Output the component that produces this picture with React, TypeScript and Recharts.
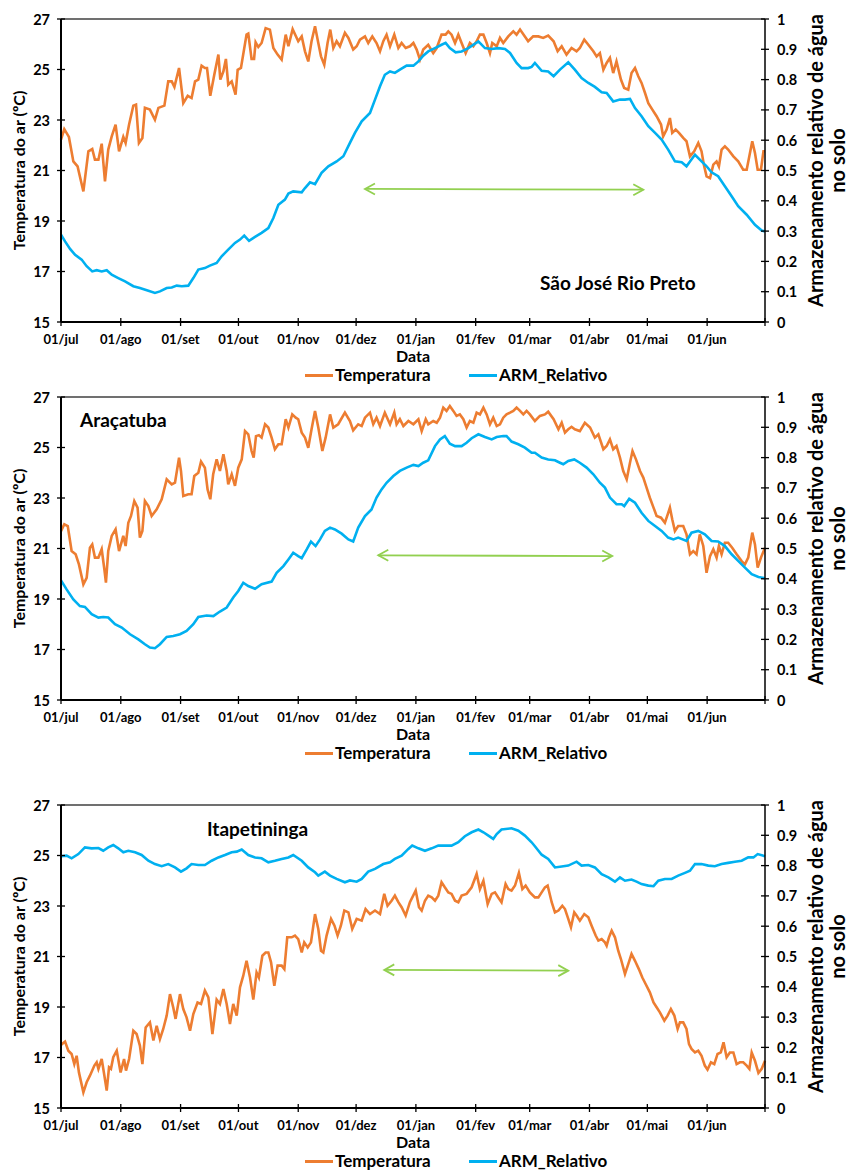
import React from 'react';
import { LineChart, Line, XAxis, YAxis, ReferenceLine } from 'recharts';

type Pt = [number, number];

// ---------- axis ticks / labels ----------
const monthTicks = [0, 31, 62, 92, 123, 153, 184, 215, 243, 274, 304, 335, 365];
const monthLabels = ['01/jul', '01/ago', '01/set', '01/out', '01/nov', '01/dez', '01/jan', '01/fev', '01/mar', '01/abr', '01/mai', '01/jun', ''];
const tempTicks = [15, 17, 19, 21, 23, 25, 27];
const armTicks = [0, 0.1, 0.2, 0.3, 0.4, 0.5, 0.6, 0.7, 0.8, 0.9, 1];
const seriesNames = ['Temperatura', 'ARM_Relativo'];
const stationNames = ['São José Rio Preto', 'Araçatuba', 'Itapetininga'];

// ---------- São José Rio Preto: [day since 01/jul, value] ----------
const sjrpTemp: Pt[] = [
  [0, 22.22], [1.7, 22.64], [4.1, 22.33], [6.4, 21.36], [8.6, 21.16], [11.6, 20.17], [14.2, 21.76], [16.2, 21.85], [17.6, 21.43], [19.4, 21.43],
  [21.1, 22.06], [22.8, 20.57], [24.5, 21.83], [26.3, 22.35], [28.3, 22.82], [30.1, 21.76], [32.3, 22.33], [33.5, 22.09], [35.3, 22.82], [37.5, 23.57],
  [38.9, 23.61], [40.4, 22.09], [42.2, 22.29], [43.5, 23.48], [46.1, 23.41], [48.7, 23.01], [50.5, 23.48], [53.6, 23.57], [55.6, 24.53], [57.4, 24.53],
  [58.8, 24.31], [61.2, 25.06], [63.4, 23.67], [65.7, 23.96], [67.7, 23.87], [69.5, 24.53], [71.2, 24.6], [72.9, 25.15], [74.6, 25.06], [75.7, 25.06],
  [77.4, 23.96], [79.5, 24.8], [81.6, 25.59], [82.6, 24.6], [84.2, 24.93], [85.5, 25.42], [86.7, 24.4], [88.5, 24.53], [90.5, 24.0], [91.6, 24.99],
  [93.3, 25.06], [96.2, 26.38], [97.1, 26.42], [98.8, 25.42], [100.1, 25.42], [100.9, 26.08], [102.3, 25.89], [104.0, 26.05], [106.1, 26.64], [108.3, 26.58],
  [110.1, 25.85], [112.3, 25.59], [114.4, 25.39], [116.5, 26.38], [117.9, 25.92], [120.1, 26.6], [123.0, 26.12], [124.8, 26.31], [126.5, 25.72], [128.2, 25.32],
  [129.9, 26.12], [131.7, 26.71], [133.4, 26.05], [134.8, 25.52], [136.5, 25.19], [138.2, 26.05], [139.6, 26.58], [141.2, 25.85], [142.9, 26.12], [144.6, 25.92],
  [147.2, 26.45], [149.0, 26.25], [151.5, 25.79], [153.3, 25.92], [155.0, 26.18], [157.6, 26.31], [159.3, 26.05], [161.4, 26.31], [163.6, 26.05], [165.4, 25.72],
  [167.1, 26.12], [168.8, 26.38], [170.6, 25.92], [172.8, 26.38], [174.9, 25.85], [176.6, 26.05], [178.7, 25.85], [180.9, 25.92], [182.7, 26.05], [184.4, 25.79],
  [186.1, 25.39], [187.8, 25.79], [190.4, 25.98], [193.0, 25.65], [194.8, 25.85], [197.3, 26.38], [199.4, 26.38], [200.8, 26.51], [202.5, 26.38], [204.3, 26.05],
  [206.0, 26.38], [207.7, 26.05], [209.8, 25.65], [212.0, 26.05], [213.8, 25.92], [215.5, 26.12], [217.2, 26.38], [219.0, 26.38], [220.7, 26.05], [222.4, 25.65],
  [223.6, 26.05], [225.9, 25.92], [227.6, 26.25], [229.3, 26.05], [231.9, 26.31], [234.5, 26.51], [236.2, 26.38], [238.0, 26.58], [240.5, 26.31], [242.2, 26.12],
  [244.8, 26.31], [247.5, 26.31], [250.0, 26.25], [252.6, 26.34], [255.4, 26.12], [257.5, 25.72], [259.6, 25.92], [262.1, 25.59], [264.7, 25.85], [267.3, 25.72],
  [269.0, 25.85], [271.3, 26.18], [273.4, 25.98], [276.0, 25.72], [277.7, 25.52], [279.4, 25.65], [281.2, 24.99], [282.9, 25.26], [284.6, 25.46], [286.3, 24.86],
  [288.0, 25.32], [290.3, 24.6], [292.0, 24.27], [294.1, 24.2], [295.8, 24.86], [297.6, 25.06], [299.3, 24.73], [301.0, 24.47], [302.8, 24.07], [304.5, 23.67],
  [306.6, 23.41], [308.8, 23.15], [311.1, 22.82], [312.2, 22.35], [314.0, 22.62], [315.7, 23.08], [316.9, 22.49], [318.7, 22.62], [320.4, 22.49], [322.6, 22.29],
  [324.3, 22.16], [326.1, 21.56], [328.3, 21.76], [330.4, 22.09], [332.1, 21.76], [333.3, 21.23], [334.7, 20.77], [336.5, 20.7], [338.2, 21.23], [339.9, 21.36],
  [341.1, 21.16], [342.5, 21.83], [344.2, 21.96], [345.9, 21.83], [348.6, 21.56], [351.1, 21.36], [353.7, 21.03], [355.5, 21.03], [357.2, 21.69], [358.4, 22.16],
  [359.8, 21.69], [361.2, 21.03], [362.9, 21.03], [364.2, 21.76], [365, 21.76],
];
const sjrpArm: Pt[] = [
  [0, 0.288], [2.1, 0.266], [4.7, 0.241], [7.3, 0.222], [10.7, 0.206], [13.3, 0.184], [16.2, 0.167], [18.5, 0.171], [21.1, 0.167], [23.7, 0.171],
  [26.3, 0.156], [29.7, 0.145], [33.2, 0.134], [37.5, 0.118], [40.9, 0.112], [45.3, 0.103], [48.7, 0.096], [51.3, 0.101], [54.8, 0.112], [57.4, 0.114],
  [60.0, 0.12], [62.6, 0.118], [66.0, 0.12], [68.6, 0.145], [71.2, 0.173], [74.6, 0.178], [77.2, 0.186], [80.7, 0.195], [83.3, 0.217], [86.7, 0.239],
  [90.2, 0.261], [92.8, 0.272], [95.0, 0.285], [97.5, 0.268], [100.6, 0.281], [104.0, 0.294], [107.5, 0.31], [110.1, 0.343], [112.7, 0.387], [116.1, 0.404],
  [117.9, 0.424], [120.4, 0.431], [124.8, 0.428], [126.5, 0.442], [129.1, 0.461], [131.7, 0.455], [135.1, 0.492], [138.6, 0.514], [142.9, 0.53], [146.4, 0.547],
  [149.8, 0.591], [152.4, 0.624], [155.9, 0.662], [160.2, 0.69], [162.8, 0.734], [165.4, 0.778], [167.9, 0.816], [170.6, 0.827], [173.1, 0.822], [175.7, 0.833],
  [179.2, 0.846], [182.7, 0.846], [185.3, 0.86], [187.8, 0.879], [190.4, 0.893], [193.9, 0.904], [197.3, 0.915], [199.4, 0.921], [201.6, 0.904], [204.6, 0.89],
  [207.7, 0.893], [211.2, 0.904], [216.4, 0.926], [219.8, 0.904], [223.3, 0.901], [226.7, 0.904], [230.2, 0.901], [232.8, 0.888], [236.2, 0.855], [238.8, 0.838],
  [242.2, 0.838], [244.0, 0.842], [245.7, 0.855], [249.2, 0.829], [252.6, 0.827], [255.4, 0.811], [258.7, 0.833], [263.0, 0.857], [266.4, 0.833], [269.9, 0.805],
  [273.4, 0.789], [276.8, 0.776], [280.3, 0.758], [282.9, 0.756], [286.3, 0.728], [289.8, 0.734], [292.4, 0.734], [295.0, 0.736], [297.6, 0.706], [301.0, 0.679],
  [304.5, 0.646], [308.0, 0.624], [311.4, 0.602], [314.8, 0.569], [318.3, 0.53], [321.8, 0.527], [324.3, 0.514], [326.1, 0.53], [328.7, 0.552], [331.2, 0.536],
  [334.7, 0.514], [337.3, 0.494], [340.7, 0.481], [344.2, 0.448], [347.7, 0.415], [351.1, 0.382], [355.5, 0.354], [359.8, 0.321], [363.3, 0.302], [365, 0.299],
];

// ---------- Araçatuba ----------
const araTemp: Pt[] = [
  [0, 21.69], [1.7, 21.96], [3.5, 21.89], [5.5, 20.9], [7.6, 20.77], [9.3, 20.37], [11.6, 19.58], [13.3, 19.84], [15.0, 21.03], [16.2, 21.16],
  [17.6, 20.64], [19.4, 20.64], [21.1, 20.97], [22.5, 20.17], [23.3, 19.65], [24.5, 20.9], [26.3, 21.5], [28.3, 21.76], [30.1, 20.9], [32.3, 21.5],
  [33.5, 21.1], [34.9, 22.02], [36.3, 22.29], [38.0, 22.88], [39.7, 22.62], [40.9, 21.43], [42.2, 21.69], [43.5, 22.88], [45.3, 22.68], [47.0, 22.29],
  [49.6, 22.55], [52.2, 22.95], [54.8, 23.74], [57.4, 23.54], [59.1, 23.61], [61.2, 24.6], [62.2, 24.07], [63.4, 23.08], [66.0, 23.15], [67.7, 23.15],
  [69.1, 23.87], [71.2, 24.0], [72.6, 24.44], [74.6, 24.2], [76.0, 23.34], [77.4, 22.95], [78.9, 23.94], [80.7, 24.53], [82.4, 24.07], [84.2, 24.73],
  [85.9, 24.07], [86.7, 23.54], [88.5, 23.94], [90.2, 23.48], [91.9, 24.2], [93.7, 24.53], [95.4, 25.65], [97.1, 25.52], [98.8, 24.86], [99.9, 24.6],
  [101.1, 25.45], [102.6, 25.49], [104.0, 25.39], [105.8, 25.92], [107.5, 25.79], [109.2, 25.39], [110.9, 24.93], [112.7, 25.13], [114.4, 25.13], [116.5, 26.12],
  [117.9, 25.79], [119.9, 26.31], [121.7, 26.18], [123.0, 26.12], [124.8, 25.59], [126.5, 25.39], [128.2, 24.99], [129.9, 25.72], [131.7, 26.45], [133.4, 25.79],
  [135.5, 24.86], [137.2, 25.39], [139.5, 26.31], [141.2, 25.79], [143.7, 25.92], [147.2, 26.38], [149.8, 26.05], [151.5, 25.68], [154.1, 25.92], [155.9, 25.85],
  [157.6, 26.18], [160.2, 26.38], [161.9, 25.92], [163.6, 26.18], [165.4, 25.85], [167.9, 26.38], [170.6, 25.92], [172.8, 26.38], [174.0, 25.92], [175.7, 26.12],
  [177.5, 25.85], [180.1, 26.05], [182.7, 25.92], [185.3, 26.12], [187.0, 25.65], [189.1, 26.12], [190.4, 25.92], [193.0, 26.05], [194.8, 25.98], [196.5, 26.18],
  [198.2, 26.58], [199.9, 26.45], [201.6, 26.64], [203.4, 26.45], [205.1, 26.25], [206.8, 26.31], [208.6, 26.12], [210.3, 25.79], [212.0, 26.05], [213.8, 25.98],
  [215.5, 26.38], [217.2, 26.31], [219.0, 26.58], [220.7, 26.31], [222.4, 25.92], [224.1, 26.18], [225.9, 25.85], [227.6, 25.92], [229.3, 26.18], [231.0, 26.31],
  [232.8, 26.38], [234.5, 26.45], [236.2, 26.58], [238.0, 26.45], [239.7, 26.31], [241.4, 26.45], [243.1, 26.31], [245.7, 26.05], [248.3, 26.25], [250.9, 26.31],
  [252.6, 26.42], [255.4, 26.12], [257.9, 25.72], [259.6, 25.98], [261.3, 25.59], [263.0, 25.72], [264.7, 25.82], [266.4, 25.72], [269.0, 25.65], [271.6, 25.98],
  [274.3, 25.79], [276.8, 25.39], [278.6, 25.52], [281.2, 24.93], [282.9, 25.06], [284.6, 25.32], [286.3, 24.93], [288.0, 25.06], [289.8, 24.6], [291.5, 24.07],
  [293.3, 23.74], [295.0, 24.4], [296.3, 24.86], [298.1, 24.53], [300.2, 24.07], [301.9, 23.81], [303.6, 23.41], [305.3, 23.01], [307.2, 22.62], [308.8, 22.29],
  [311.1, 22.22], [313.1, 22.02], [314.3, 22.29], [315.7, 22.62], [316.9, 22.16], [318.3, 21.69], [320.0, 21.89], [322.6, 21.89], [324.3, 21.56], [326.1, 20.77],
  [327.8, 20.9], [329.5, 20.77], [331.2, 21.56], [333.0, 21.1], [334.7, 20.04], [336.5, 20.7], [338.2, 20.97], [339.9, 20.64], [341.1, 21.1], [342.5, 20.77],
  [344.2, 21.23], [345.9, 21.23], [348.0, 21.03], [350.3, 20.77], [352.9, 20.5], [354.6, 20.37], [356.3, 20.64], [358.4, 21.63], [359.8, 21.16], [361.2, 20.24],
  [362.9, 20.64], [365, 21.03],
];
const araArm: Pt[] = [
  [0, 0.395], [2.9, 0.365], [6.4, 0.332], [9.8, 0.31], [12.4, 0.307], [15.9, 0.283], [19.4, 0.272], [21.9, 0.274], [24.5, 0.272], [28.0, 0.25],
  [31.5, 0.239], [35.8, 0.217], [40.1, 0.2], [43.5, 0.184], [46.1, 0.173], [48.7, 0.171], [51.3, 0.184], [54.8, 0.208], [58.2, 0.211], [61.7, 0.217],
  [65.1, 0.228], [68.6, 0.25], [71.2, 0.274], [75.5, 0.279], [79.0, 0.277], [82.4, 0.292], [85.9, 0.305], [89.3, 0.338], [91.9, 0.36], [94.5, 0.387],
  [97.1, 0.376], [100.6, 0.367], [104.0, 0.382], [109.2, 0.391], [111.8, 0.42], [115.3, 0.442], [117.9, 0.464], [120.4, 0.486], [123.0, 0.475], [124.8, 0.468],
  [127.4, 0.497], [129.6, 0.523], [132.0, 0.508], [134.3, 0.53], [136.8, 0.558], [139.5, 0.569], [142.0, 0.563], [145.5, 0.549], [149.0, 0.53], [151.5, 0.523],
  [154.1, 0.569], [157.6, 0.607], [161.0, 0.629], [163.6, 0.668], [166.2, 0.695], [168.8, 0.717], [172.3, 0.739], [175.7, 0.756], [179.2, 0.767], [182.7, 0.776],
  [185.3, 0.772], [187.8, 0.783], [190.4, 0.791], [193.9, 0.838], [196.5, 0.86], [199.0, 0.871], [201.6, 0.846], [204.3, 0.838], [207.7, 0.838], [210.3, 0.849],
  [212.9, 0.864], [216.4, 0.877], [219.8, 0.868], [223.3, 0.86], [225.9, 0.868], [229.3, 0.871], [231.0, 0.871], [233.6, 0.853], [237.1, 0.844], [240.5, 0.833],
  [244.0, 0.816], [245.7, 0.816], [249.2, 0.8], [252.6, 0.794], [256.1, 0.791], [258.7, 0.783], [260.4, 0.778], [263.0, 0.789], [266.1, 0.794], [269.0, 0.783],
  [272.5, 0.767], [276.0, 0.745], [279.4, 0.717], [282.0, 0.701], [284.6, 0.668], [288.0, 0.646], [290.7, 0.646], [292.0, 0.64], [294.6, 0.664], [297.6, 0.651],
  [301.0, 0.618], [304.5, 0.591], [308.0, 0.574], [311.4, 0.558], [314.8, 0.536], [317.5, 0.53], [320.0, 0.536], [324.3, 0.525], [326.9, 0.552], [330.4, 0.558],
  [333.8, 0.547], [337.3, 0.525], [340.7, 0.523], [344.2, 0.508], [347.7, 0.481], [351.1, 0.459], [354.6, 0.437], [358.1, 0.415], [361.6, 0.406], [365, 0.402],
];

// ---------- Itapetininga ----------
const itaTemp: Pt[] = [
  [0, 17.5], [2.1, 17.63], [3.8, 17.27], [5.5, 17.14], [6.9, 16.74], [8.1, 17.07], [9.3, 16.41], [11.6, 15.62], [13.3, 16.02], [15.0, 16.28],
  [17.3, 16.68], [18.5, 16.81], [19.4, 16.55], [21.1, 16.94], [22.5, 16.28], [23.7, 15.69], [24.9, 16.61], [25.9, 16.55], [27.1, 17.01], [28.9, 17.27],
  [30.9, 16.41], [32.7, 16.94], [33.7, 16.48], [35.3, 16.94], [37.5, 18.06], [39.2, 17.93], [40.9, 17.47], [42.2, 16.74], [43.9, 18.19], [46.1, 18.39],
  [47.9, 17.67], [49.6, 18.26], [51.3, 17.73], [53.0, 18.13], [54.8, 18.66], [56.5, 19.51], [58.2, 18.98], [59.4, 18.53], [61.7, 19.51], [63.4, 18.92],
  [65.1, 18.59], [66.9, 18.06], [68.6, 18.72], [70.8, 19.18], [72.6, 19.12], [74.6, 19.65], [76.4, 19.38], [78.5, 17.93], [80.7, 19.29], [82.4, 19.12],
  [84.2, 19.71], [85.9, 19.12], [87.6, 18.33], [89.3, 19.12], [91.1, 18.66], [92.8, 19.78], [94.5, 20.24], [96.2, 20.83], [98.0, 20.17], [99.7, 19.29],
  [101.4, 20.37], [102.6, 20.17], [104.4, 21.03], [106.1, 21.16], [107.5, 21.16], [108.9, 20.77], [110.6, 19.84], [112.3, 20.64], [114.4, 20.64], [115.8, 20.5],
  [117.3, 21.76], [119.6, 21.76], [121.3, 21.83], [123.0, 21.69], [124.8, 21.16], [126.1, 21.56], [127.9, 21.36], [129.6, 21.56], [131.7, 22.68], [133.4, 22.09],
  [134.8, 21.23], [136.0, 21.16], [137.7, 21.83], [140.0, 22.49], [141.8, 22.22], [143.4, 21.83], [145.1, 22.22], [146.9, 22.82], [149.0, 22.75], [151.0, 22.09],
  [153.3, 22.49], [155.9, 22.42], [157.9, 22.88], [160.2, 22.68], [162.8, 22.82], [165.4, 22.68], [167.6, 23.48], [169.3, 23.01], [171.4, 23.21], [173.1, 23.41],
  [174.9, 23.15], [176.6, 22.95], [178.7, 22.62], [180.9, 23.15], [183.9, 23.61], [185.6, 22.95], [187.0, 22.82], [188.7, 23.21], [190.4, 23.41], [192.2, 23.34],
  [193.9, 23.21], [195.6, 23.41], [197.3, 23.94], [199.0, 23.74], [200.8, 23.54], [202.5, 23.48], [204.3, 23.21], [206.0, 23.15], [207.7, 23.41], [210.3, 23.48],
  [212.9, 23.74], [215.5, 24.27], [217.2, 23.67], [219.0, 24.0], [221.2, 23.08], [223.3, 23.48], [225.0, 23.54], [226.7, 23.34], [228.4, 23.15], [230.5, 23.87],
  [231.9, 23.67], [233.6, 23.61], [235.4, 23.81], [237.4, 24.31], [239.2, 23.67], [240.9, 23.81], [243.1, 23.54], [245.7, 23.34], [247.5, 23.34], [249.2, 23.54],
  [250.9, 23.74], [252.3, 23.81], [254.4, 23.15], [256.1, 22.75], [257.9, 22.82], [259.9, 23.01], [261.3, 22.88], [263.0, 22.49], [264.4, 22.16], [266.1, 22.75],
  [267.3, 22.62], [269.0, 22.42], [271.3, 22.68], [273.4, 22.55], [275.1, 22.22], [277.2, 21.83], [278.6, 21.63], [280.3, 21.69], [282.0, 21.56], [282.9, 21.43],
  [284.1, 21.76], [285.5, 22.02], [287.2, 21.76], [288.9, 21.23], [290.3, 20.9], [292.4, 20.31], [294.1, 20.7], [295.8, 21.1], [297.6, 20.83], [299.6, 20.5],
  [301.4, 20.17], [303.1, 19.91], [305.3, 19.58], [307.2, 19.18], [308.8, 18.99], [310.5, 18.79], [312.8, 18.46], [314.5, 18.66], [316.2, 18.92], [318.0, 18.66],
  [319.7, 18.13], [320.9, 18.39], [322.6, 18.39], [324.3, 18.13], [325.6, 17.53], [326.9, 17.34], [328.7, 17.2], [330.4, 17.27], [332.1, 17.07], [333.8, 16.68],
  [335.2, 16.52], [337.0, 16.81], [338.7, 16.74], [340.4, 17.14], [342.1, 17.2], [343.5, 17.6], [345.1, 17.01], [346.8, 17.2], [348.6, 17.2], [350.3, 16.74],
  [352.0, 16.81], [353.7, 16.81], [355.5, 16.68], [356.9, 16.55], [358.1, 17.2], [359.8, 16.87], [361.6, 16.39], [363.3, 16.55], [365, 16.87],
];
const itaArm: Pt[] = [
  [0, 0.831], [2.9, 0.833], [5.5, 0.824], [9.0, 0.838], [12.4, 0.86], [15.9, 0.857], [19.4, 0.858], [21.9, 0.849], [24.5, 0.86], [27.1, 0.868],
  [29.7, 0.857], [32.3, 0.844], [34.9, 0.849], [38.4, 0.844], [41.8, 0.835], [45.3, 0.816], [48.7, 0.805], [52.2, 0.798], [55.6, 0.805], [59.1, 0.794],
  [62.2, 0.78], [65.1, 0.791], [67.7, 0.805], [71.2, 0.802], [74.6, 0.802], [78.1, 0.816], [81.6, 0.827], [85.0, 0.835], [88.5, 0.844], [91.1, 0.846],
  [93.7, 0.853], [97.1, 0.835], [100.6, 0.827], [104.0, 0.824], [107.5, 0.811], [110.9, 0.816], [114.4, 0.822], [117.9, 0.827], [120.4, 0.835], [124.8, 0.816],
  [128.2, 0.794], [131.7, 0.778], [133.4, 0.767], [136.8, 0.78], [139.5, 0.767], [142.9, 0.756], [147.2, 0.745], [149.8, 0.751], [153.3, 0.747], [155.9, 0.756],
  [159.3, 0.78], [162.8, 0.789], [167.1, 0.805], [170.6, 0.811], [173.1, 0.822], [176.6, 0.833], [180.1, 0.855], [182.1, 0.866], [185.3, 0.857], [188.7, 0.849],
  [192.2, 0.857], [195.6, 0.866], [199.0, 0.866], [202.5, 0.866], [206.0, 0.877], [209.4, 0.897], [212.9, 0.91], [216.4, 0.919], [219.0, 0.91], [221.6, 0.899],
  [224.1, 0.888], [225.9, 0.904], [228.4, 0.919], [233.6, 0.923], [237.1, 0.915], [240.5, 0.899], [244.0, 0.877], [245.7, 0.864], [249.2, 0.836], [252.6, 0.822],
  [256.1, 0.794], [259.6, 0.797], [263.0, 0.8], [267.3, 0.813], [269.9, 0.8], [273.4, 0.802], [276.8, 0.794], [280.3, 0.772], [283.8, 0.761], [287.2, 0.747],
  [289.8, 0.761], [292.4, 0.75], [295.8, 0.754], [298.4, 0.747], [301.0, 0.739], [304.5, 0.734], [307.2, 0.732], [309.7, 0.75], [313.1, 0.756], [316.6, 0.756],
  [320.0, 0.767], [323.5, 0.776], [326.1, 0.783], [328.7, 0.805], [332.1, 0.805], [335.6, 0.8], [339.0, 0.798], [342.5, 0.805], [345.9, 0.809], [349.4, 0.813],
  [352.9, 0.816], [356.3, 0.827], [359.0, 0.827], [361.2, 0.838], [365, 0.831],
];

// ---------- green double arrows: [day, temperature] at both ends ----------
const sjrpArrow: Pt[] = [[157.6, 20.27], [301.9, 20.24]];
const araArrow: Pt[] = [[164.5, 20.73], [285.8, 20.7]];
const itaArrow: Pt[] = [[167.6, 20.47], [263.0, 20.44]];

// ---------- styling ----------
const FONT = 'Lato, "Open Sans", "DejaVu Sans", sans-serif';
const ORANGE = '#ED7D31';
const BLUE = '#00B0F0';
const GREEN = '#92D050';

function mergeSeries(temp: Pt[], arm: Pt[]) {
  const map = new Map<number, { day: number; temp?: number; arm?: number }>();
  temp.forEach(([d, v]) => {
    const r = map.get(d) || { day: d };
    r.temp = v;
    map.set(d, r);
  });
  arm.forEach(([d, v]) => {
    const r = map.get(d) || { day: d };
    r.arm = v;
    map.set(d, r);
  });
  return Array.from(map.values()).sort((a, b) => a.day - b.day);
}

const XTick = (props: any) => {
  const { x, y, payload } = props;
  const idx = monthTicks.indexOf(payload.value);
  return (
    <g>
      <line x1={x} x2={x} y1={y - 4} y2={y + 4} stroke="#000" strokeWidth={1.3} />
      <text x={x} y={y + 17} textAnchor="middle" dominantBaseline="central" fontFamily={FONT} fontWeight={700} fontSize={13} fill="#000">
        {idx >= 0 ? monthLabels[idx] : ''}
      </text>
    </g>
  );
};

const LeftTick = (props: any) => {
  const { x, y, payload } = props;
  return (
    <g>
      <line x1={x - 4} x2={x + 4} y1={y} y2={y} stroke="#000" strokeWidth={1.3} />
      <text x={x - 11} y={y} textAnchor="end" dominantBaseline="central" fontFamily={FONT} fontWeight={700} fontSize={14.5} fill="#000">
        {payload.value}
      </text>
    </g>
  );
};

const RightTick = (props: any) => {
  const { x, y, payload } = props;
  const v = payload.value as number;
  const txt = v === 0 || v === 1 ? String(v) : v.toFixed(1);
  return (
    <g>
      <line x1={x - 4} x2={x + 4} y1={y} y2={y} stroke="#000" strokeWidth={1.3} />
      <text x={x + 12} y={y} textAnchor="start" dominantBaseline="central" fontFamily={FONT} fontWeight={700} fontSize={14.5} fill="#000">
        {txt}
      </text>
    </g>
  );
};

const ArrowShape = (p: any) => {
  const { x1, y1, x2, y2 } = p;
  const h = 10;
  const w = 5.5;
  const s = { fill: 'none', stroke: GREEN, strokeWidth: 1.8 } as const;
  return (
    <g>
      <line x1={x1} y1={y1} x2={x2} y2={y2} {...s} />
      <polyline points={`${x1 + h},${y1 - w} ${x1},${y1} ${x1 + h},${y1 + w}`} {...s} />
      <polyline points={`${x2 - h},${y2 - w} ${x2},${y2} ${x2 - h},${y2 + w}`} {...s} />
    </g>
  );
};

const leftTitle = (props: any) => {
  const vb = props.viewBox || { x: 0, y: 19, width: 61, height: 303 };
  const cx = vb.x + 18;
  const cy = vb.y + vb.height / 2;
  return (
    <text x={cx} y={cy} transform={`rotate(-90 ${cx} ${cy})`} textAnchor="middle" dominantBaseline="central" fontFamily={FONT} fontWeight={700} fontSize={16} fill="#000">
      Temperatura do ar (ºC)
    </text>
  );
};

const rightTitle = (props: any) => {
  const vb = props.viewBox || { x: 765, y: 19, width: 85, height: 303 };
  const cy = vb.y + vb.height / 2 - 10;
  const x1 = vb.x + 50;
  const x2 = vb.x + 72;
  return (
    <g fontFamily={FONT} fontWeight={700} fontSize={20} fill="#000">
      <text x={x1} y={cy} transform={`rotate(-90 ${x1} ${cy})`} textAnchor="middle" dominantBaseline="central">
        Armazenamento relativo de água
      </text>
      <text x={x2} y={cy} transform={`rotate(-90 ${x2} ${cy})`} textAnchor="middle" dominantBaseline="central">
        no solo
      </text>
    </g>
  );
};

const dataTitle = (props: any) => {
  const vb = props.viewBox || { x: 61, y: 322, width: 704, height: 43 };
  return (
    <text x={vb.x + vb.width / 2} y={vb.y + 33} textAnchor="middle" dominantBaseline="central" fontFamily={FONT} fontWeight={700} fontSize={16} fill="#000">
      Data
    </text>
  );
};

interface PanelProps {
  top: number;
  temp: Pt[];
  arm: Pt[];
  arrow: Pt[];
  station: string;
  stationLeft: number;
  stationY: number;
}

const legendItemStyle: React.CSSProperties = {
  position: 'absolute',
  top: 366,
  display: 'flex',
  alignItems: 'center',
  fontFamily: FONT,
  fontWeight: 700,
  fontSize: 17,
  lineHeight: '18px',
  height: 18,
  whiteSpace: 'nowrap',
  color: '#000',
};

function Panel({ top, temp, arm, arrow, station, stationLeft, stationY }: PanelProps) {
  const data = mergeSeries(temp, arm);
  return (
    <div style={{ position: 'absolute', left: 0, top, width: 850, height: 390 }}>
      <LineChart width={850} height={390} data={data} margin={{ top: 19, right: 0, bottom: 25, left: 0 }}>
        <XAxis
          dataKey="day"
          type="number"
          domain={[0, 365]}
          ticks={monthTicks}
          interval={0}
          tickSize={0}
          tickMargin={0}
          tickLine={false}
          axisLine={{ stroke: '#000', strokeWidth: 2 }}
          tick={(p: any) => <XTick {...p} />}
          height={43}
          label={dataTitle}
        />
        <YAxis
          yAxisId="t"
          orientation="left"
          width={61}
          type="number"
          domain={[15, 27]}
          ticks={tempTicks}
          interval={0}
          tickSize={0}
          tickMargin={0}
          tickLine={false}
          axisLine={{ stroke: '#000', strokeWidth: 2 }}
          tick={(p: any) => <LeftTick {...p} />}
          label={leftTitle}
        />
        <YAxis
          yAxisId="a"
          orientation="right"
          width={85}
          type="number"
          domain={[0, 1]}
          ticks={armTicks}
          interval={0}
          tickSize={0}
          tickMargin={0}
          tickLine={false}
          axisLine={{ stroke: '#000', strokeWidth: 1.5 }}
          tick={(p: any) => <RightTick {...p} />}
          label={rightTitle}
        />
        <ReferenceLine yAxisId="t" y={27} stroke="#404040" strokeWidth={1.5} />
        <ReferenceLine
          yAxisId="t"
          segment={[{ x: arrow[0][0], y: arrow[0][1] }, { x: arrow[1][0], y: arrow[1][1] }]}
          stroke={GREEN}
          shape={ArrowShape}
        />
        <Line yAxisId="t" type="linear" dataKey="temp" name={seriesNames[0]} stroke={ORANGE} strokeWidth={2.6} dot={false} connectNulls isAnimationActive={false} />
        <Line yAxisId="a" type="linear" dataKey="arm" name={seriesNames[1]} stroke={BLUE} strokeWidth={2.6} dot={false} connectNulls isAnimationActive={false} />
      </LineChart>
      <div style={{ position: 'absolute', left: stationLeft, top: stationY - 12, fontFamily: FONT, fontWeight: 700, fontSize: 19, lineHeight: '24px', whiteSpace: 'nowrap', color: '#000' }}>
        {station}
      </div>
      <div style={{ ...legendItemStyle, left: 305 }}>
        <span style={{ display: 'inline-block', width: 28, height: 3, background: ORANGE }} />
        <span style={{ marginLeft: 2 }}>{seriesNames[0]}</span>
      </div>
      <div style={{ ...legendItemStyle, left: 469 }}>
        <span style={{ display: 'inline-block', width: 28, height: 3, background: BLUE }} />
        <span style={{ marginLeft: 2 }}>{seriesNames[1]}</span>
      </div>
    </div>
  );
}

export default function App() {
  return (
    <div style={{ position: 'absolute', left: 0, top: 0, width: 850, height: 1171, overflow: 'hidden', background: '#fff' }}>
      <Panel top={0} temp={sjrpTemp} arm={sjrpArm} arrow={sjrpArrow} station={stationNames[0]} stationLeft={540} stationY={283} />
      <Panel top={378} temp={araTemp} arm={araArm} arrow={araArrow} station={stationNames[1]} stationLeft={80} stationY={42} />
      <Panel top={786} temp={itaTemp} arm={itaArm} arrow={itaArrow} station={stationNames[2]} stationLeft={207} stationY={43} />
    </div>
  );
}
